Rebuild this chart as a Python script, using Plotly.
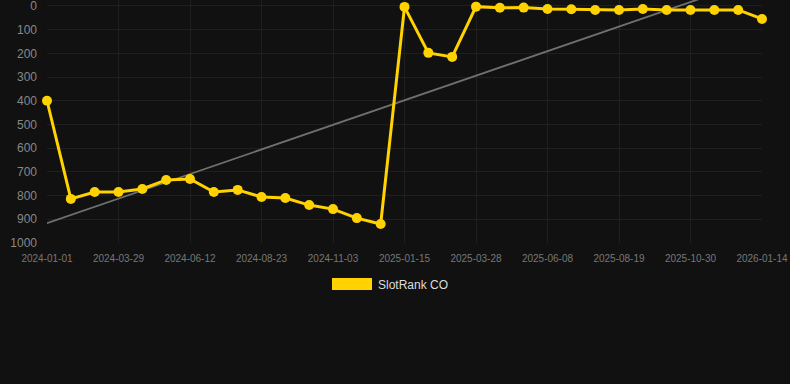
import numpy as np
import plotly.graph_objects as go

dates = [
    "2024-01-01", "2024-01-30", "2024-02-28", "2024-03-29", "2024-04-23",
    "2024-05-18", "2024-06-12", "2024-07-06", "2024-07-30", "2024-08-23",
    "2024-09-16", "2024-10-10", "2024-11-03", "2024-11-27", "2024-12-21",
    "2025-01-15", "2025-02-08", "2025-03-04", "2025-03-28", "2025-04-21",
    "2025-05-15", "2025-06-08", "2025-07-02", "2025-07-26", "2025-08-19",
    "2025-09-12", "2025-10-06", "2025-10-30", "2025-11-24", "2025-12-19",
    "2026-01-14",
]
rank = [
    400, 814, 785, 785, 772, 734, 730, 785, 776, 806,
    810, 840, 857, 895, 920, 4, 198, 215, 3, 8,
    7, 13, 14, 17, 17, 13, 17, 17, 17, 17,
    55,
]
tick_labels = dates[::3]
y_ticks = list(range(0, 1001, 100))
series_name = "SlotRank CO"

idx = np.arange(len(rank))
slope, intercept = np.polyfit(idx, np.array(rank, dtype=float), 1)
trend = intercept + slope * idx

gold = "#FFD200"
fig = go.Figure()
fig.add_trace(go.Scatter(
    x=dates, y=trend, mode="lines",
    line=dict(color="#707070", width=1.8),
    showlegend=False, hoverinfo="skip",
))
fig.add_trace(go.Scatter(
    x=dates, y=rank, mode="lines+markers", name=series_name,
    line=dict(color=gold, width=3),
    marker=dict(color=gold, size=10),
    cliponaxis=False, showlegend=False,
))

# legend: swatch + label
fig.add_shape(
    type="rect", xref="paper", yref="paper",
    x0=(332 - 47) / 715, x1=(372 - 47) / 715,
    y0=(243 - 278) / 243, y1=(243 - 290) / 243,
    fillcolor=gold, line=dict(width=0),
)
fig.add_annotation(
    text=series_name, xref="paper", yref="paper",
    x=(376 - 47) / 715, y=(243 - 285) / 243,
    xanchor="left", yanchor="middle", showarrow=False,
    font=dict(size=12, color="#dddddd"),
)

fig.update_layout(
    width=790, height=384,
    margin=dict(l=47, r=28, t=0, b=141),
    paper_bgcolor="#111111", plot_bgcolor="#111111",
    font=dict(family="Liberation Sans, Arial, sans-serif"),
    showlegend=False,
    xaxis=dict(
        type="category", range=[0, len(dates) - 1],
        tickmode="array", tickvals=tick_labels, ticktext=tick_labels,
        showgrid=True, gridcolor="#1f1f1f", gridwidth=1,
        zeroline=False, showline=False,
        tickfont=dict(size=10, color="#777777"),
        ticks="", ticklabelstandoff=8, automargin=False,
    ),
    yaxis=dict(
        range=[1000, -25], tickmode="array",
        tickvals=y_ticks,
        showgrid=True, gridcolor="#1f1f1f", gridwidth=1,
        zeroline=False, showline=False,
        tickfont=dict(size=12, color="#888888"),
        ticks="", ticklabelstandoff=9,
        ticklabeloverflow="allow", automargin=False,
    ),
)

fig.write_html("out.html")
